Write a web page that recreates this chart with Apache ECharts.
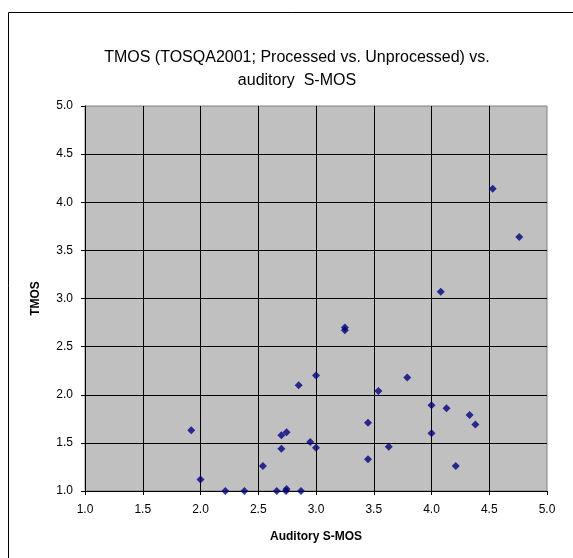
<!DOCTYPE html>
<html>
<head>
<meta charset="utf-8">
<script src="https://cdn.jsdelivr.net/npm/echarts@6/dist/echarts.min.js"></script>
<style>
html,body{margin:0;padding:0;background:#fff;}
#c{width:573px;height:558px;}
</style>
</head>
<body>
<div id="c"></div>
<script>
const titleText = "TMOS (TOSQA2001; Processed vs. Unprocessed) vs.\nauditory  S-MOS";
const xName = "Auditory S-MOS";
const yName = "TMOS";
const auditorySMOS = [3.25, 3.25, 3.00, 2.85, 1.92, 2.70, 2.745, 2.95, 3.00, 2.70, 2.54, 2.00, 2.215, 2.38, 2.66, 2.74, 2.745, 2.87,
  4.53, 4.76, 4.08, 3.79, 3.54, 4.00, 4.13, 4.33, 4.38, 3.45, 4.00, 3.63, 3.45, 4.21];
const tmos = [2.70, 2.67, 2.20, 2.10, 1.63, 1.58, 1.61, 1.51, 1.45, 1.44, 1.26, 1.12, 1.00, 1.00, 1.00, 1.00, 1.02, 1.00,
  4.14, 3.64, 3.07, 2.18, 2.04, 1.89, 1.86, 1.79, 1.69, 1.71, 1.60, 1.46, 1.33, 1.26];

const points = auditorySMOS.map((x, i) => [x, tmos[i]]);
const chart = echarts.init(document.getElementById('c'), null, {renderer: 'canvas'});
const font = "'Liberation Sans', Arial, sans-serif";
chart.setOption({
  animation: false,
  backgroundColor: '#ffffff',
  graphic: [{
    type: 'rect', shape: {x: 8.5, y: 12.5, width: 600, height: 600},
    style: {fill: 'none', stroke: '#000', lineWidth: 1}, silent: true, z: -1
  }],
  title: {
    text: titleText, left: 292, top: 41, textAlign: 'center',
    textStyle: {fontFamily: font, fontSize: 16, fontWeight: 'normal', color: '#000', lineHeight: 23}
  },
  grid: {left: 85, right: 26, top: 106, bottom: 67, show: true, backgroundColor: '#C0C0C0', borderColor: '#808080', borderWidth: 1},
  xAxis: {
    type: 'value', min: 1, max: 5, interval: 0.5,
    name: xName, nameLocation: 'middle', nameGap: 40,
    nameTextStyle: {fontFamily: font, fontSize: 12, fontWeight: 'bold', color: '#000'},
    axisLine: {show: true, lineStyle: {color: '#000', width: 1}},
    axisTick: {show: true, inside: false, length: 4, lineStyle: {color: '#000'}},
    axisLabel: {fontFamily: font, fontSize: 12, color: '#000', margin: 13, formatter: v => v.toFixed(1)},
    splitLine: {show: true, showMinLine: false, showMaxLine: false, lineStyle: {color: '#000', width: 1}}
  },
  yAxis: {
    type: 'value', min: 1, max: 5, interval: 0.5,
    name: yName, nameLocation: 'middle', nameGap: 43, nameRotate: 90,
    nameTextStyle: {fontFamily: font, fontSize: 12, fontWeight: 'bold', color: '#000'},
    axisLine: {show: true, lineStyle: {color: '#000', width: 1}},
    axisTick: {show: true, inside: false, length: 4, lineStyle: {color: '#000'}},
    axisLabel: {fontFamily: font, fontSize: 12, color: '#000', margin: 12, formatter: v => v.toFixed(1)},
    splitLine: {show: true, showMinLine: false, showMaxLine: false, lineStyle: {color: '#000', width: 1}}
  },
  series: [{
    type: 'scatter', data: points, symbol: 'diamond', symbolSize: 8,
    itemStyle: {color: '#000080'}, clip: false
  }]
});
</script>
</body>
</html>
